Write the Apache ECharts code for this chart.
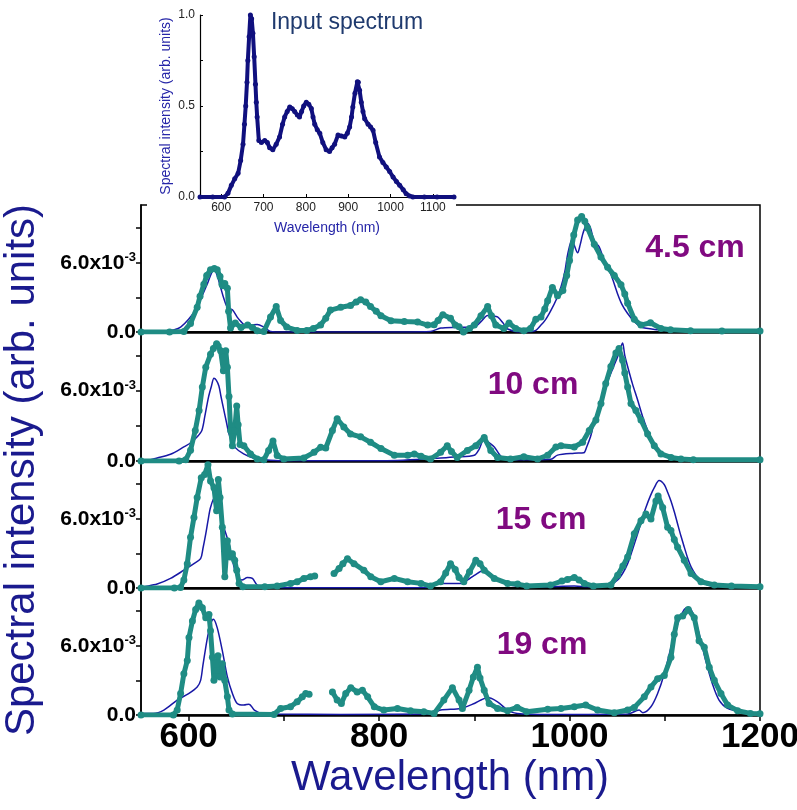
<!DOCTYPE html>
<html>
<head>
<meta charset="utf-8">
<script src="https://cdn.jsdelivr.net/npm/echarts@6/dist/echarts.min.js"></script>
<style>
  html, body { margin: 0; padding: 0; background: #fff; }
  #chart { width: 797px; height: 810px; }
</style>
</head>
<body>
<div id="chart"></div>
<script>
// input spectrum (inset), normalised
const inputSpectrum = [[550,0],[580,0],[608,0],[616,0.02],[624,0.064],[632,0.1],[640,0.13],[646,0.2],[651.6,0.29],[655,0.4],[658,0.5],[661,0.63],[663,0.75],[666,0.88],[669,1.0],[672,0.98],[675,0.9],[678,0.77],[681,0.62],[683,0.52],[685,0.44],[689,0.31],[695,0.30],[703,0.31],[709,0.3],[714.6,0.27],[722,0.26],[730,0.29],[738,0.33],[745,0.4],[750,0.44],[756,0.47],[762,0.495],[768,0.485],[773.6,0.47],[780,0.45],[785,0.44],[790,0.47],[795,0.5],[801,0.52],[807,0.51],[813,0.486],[817,0.44],[821,0.40],[827,0.37],[833,0.35],[840,0.3],[848,0.26],[856,0.25],[862,0.27],[868,0.29],[876,0.34],[884,0.335],[892,0.33],[898,0.35],[903.5,0.385],[908,0.44],[911,0.495],[916,0.57],[921.7,0.633],[924,0.63],[927,0.587],[931,0.52],[935,0.47],[939,0.43],[947,0.40],[953,0.385],[958.7,0.367],[965,0.3],[974,0.22],[982,0.19],[990,0.165],[998,0.14],[1006,0.11],[1014,0.085],[1021.7,0.064],[1030,0.04],[1037,0.018],[1045,0.006],[1053,0],[1080,0],[1110,0],[1150,0]]

// output spectra, values in units of 1e-3 (blue = simulation, teal = measurement)
const blue45 = [[550,0],[574,0],[585,0.2],[591.6,0.43],[600,1.1],[609,2.14],[614,3.1],[619.6,4.15],[623,4.9],[626.6,5.43],[630,4.9],[633.6,3.86],[637,2.9],[640.7,2.14],[646,1.92],[651,1.29],[655,0.9],[660,0.57],[666,0.6],[672,0.66],[679,0.43],[686,0.05],[700,0],[750,0],[800,0],[854,0.05],[864.8,0.34],[880,0.4],[900,0.43],[907,0.9],[914,1.43],[919,1.4],[924.4,1.3],[930,0.8],[935,0.26],[949,0],[963,0.08],[970,0.6],[975,1.1],[980.6,1.9],[986,2.8],[991,3.9],[995,5.2],[998,6.7],[1002.5,8.0],[1005,7.5],[1008.5,6.86],[1011,7.5],[1013.7,8.43],[1016,9.0],[1019,9.43],[1022,9.0],[1026,7.86],[1031,7.4],[1036,6.3],[1043.4,5.0],[1050.5,3.3],[1055,2.4],[1061,1.6],[1068,0.9],[1075,0.43],[1092.5,0.2],[1110,0.1],[1150,0.05],[1200,0.05]]
const teal45 = [[550,0],[580,0],[595,0.05],[602,0.74],[609,2.14],[612,3.1],[616,4.14],[619,4.9],[623,5.4],[627,5.5],[630,5.4],[633,4.8],[635,4.14],[636,4.0],[638,4.2],[640.7,3.8],[642,1.8],[644,0.35],[649,0.77],[655,0.4],[662,0.6],[667,0.4],[672,0.1],[679,0.05],[686,1.3],[692,2.2],[696.6,1.0],[703,0.43],[714,0.14],[724,0.14],[731,0.3],[738.6,0.6],[744,1.2],[749,1.9],[759.7,2.14],[770,2.3],[776,2.6],[780.6,2.8],[786,2.6],[791,2.2],[797,1.8],[802,1.4],[812.5,0.97],[826.5,0.9],[840.5,0.86],[851,0.6],[857.8,0.63],[862,1.0],[867,1.5],[875,1.2],[880,0.6],[884,0.45],[888.6,0.0],[895,0.3],[900,0.6],[907,1.4],[914,2.2],[918,1.4],[922.6,0.6],[931,0.3],[936.5,0.77],[943.5,0.3],[952,0.1],[959,0.3],[964.6,1.1],[970,1.3],[974,2.0],[977,2.7],[982,3.86],[987.4,3.14],[993,3.6],[997,4.9],[1000,6.2],[1004.4,8.4],[1008.5,9.7],[1012.7,10.0],[1016,9.6],[1019,9.0],[1026,7.6],[1033,6.5],[1040,5.6],[1047,4.9],[1054,4.1],[1058,3.3],[1061,2.5],[1068,1.1],[1075,0.6],[1085,0.8],[1096,0.3],[1106,0.2],[1127,0.1],[1160,0.08],[1200,0.08]]

const blue10 = [[550,0],[556.6,0.05],[567,0.26],[581,0.57],[595,1.2],[603,1.6],[609,2.06],[614,2.63],[617,3.8],[621,5.49],[624,6.4],[626.6,7.06],[629,6.9],[631.8,6.4],[634,5.5],[637,4.34],[640,3.2],[642,2.4],[645,1.8],[649,1.14],[657.8,0.6],[668.6,0.23],[680,0.1],[700,0.02],[800,0.02],[864.6,0.26],[880,0.35],[900,0.49],[905,1.0],[910.4,1.9],[915,1.6],[921,1.2],[926,0.6],[931,0.2],[945,0.1],[980.4,0.15],[987.4,0.5],[1005,0.66],[1015,0.7],[1018,1.2],[1022,2.06],[1025,3.0],[1029.4,4.06],[1033,5.0],[1036.4,6.06],[1040,6.8],[1043.5,7.5],[1047,8.2],[1050.5,8.9],[1053,9.5],[1055.7,10.06],[1058,9.0],[1061,8.06],[1066,6.6],[1071.5,5.2],[1076.7,3.8],[1083.7,2.3],[1092.5,1.0],[1103,0.37],[1117,0.17],[1150,0.1],[1200,0.1]]
const teal10 = [[550,0],[590,0],[597,0.1],[602,0.92],[607,2.6],[611,4.3],[614.4,6.3],[618,8.0],[623,9.1],[626,9.6],[629.4,10.0],[631,9.8],[633.6,9.4],[636.5,7.7],[639,9.4],[640.7,8.0],[642.4,5.5],[644.2,2.6],[646,1.3],[648.4,2.6],[650.5,4.7],[652,3.1],[654,1.4],[658,1.3],[665,0.6],[672,0.17],[679,0.1],[684,0.9],[688.6,1.7],[693,0.46],[700,0.17],[721,0.26],[731.7,0.74],[738.7,1.17],[744,1.1],[751,2.6],[756,3.6],[763,2.9],[770,2.3],[780.6,2.06],[791,1.6],[802,1.06],[816,0.49],[830,0.49],[837,0.6],[844,0.4],[854,0.17],[864.6,0.74],[871.6,1.3],[876,0.8],[882,0.3],[892.7,0.9],[901.6,1.3],[910.4,2.0],[917.3,0.9],[924.4,0.3],[938,0.17],[952,0.37],[966.4,0.17],[977,0.49],[985.7,1.2],[991,1.3],[1005,1.2],[1013.7,1.6],[1020.7,2.6],[1027.7,3.5],[1033,4.9],[1038,6.6],[1043.4,8.06],[1048.7,9.2],[1052,9.6],[1055.7,8.6],[1058,7.5],[1061,6.3],[1064.5,4.9],[1069.7,4.3],[1075,3.5],[1082,2.3],[1089,1.3],[1096,0.6],[1106.6,0.3],[1117,0.17],[1130,0.1],[1200,0.1]]

const blue15 = [[550,0.05],[553,0.11],[567,0.34],[581,0.83],[595,1.54],[605.6,2.11],[612.6,2.54],[615,3.4],[618,4.69],[620.5,5.9],[623,6.97],[627.3,7.83],[631.8,6.97],[637,5.26],[642.4,3.83],[646,2.4],[651,0.97],[656,0.69],[661.7,0.91],[667,0.83],[672,0.26],[680,0.11],[700,0.02],[850,0.05],[864.6,0.4],[885.8,0.4],[893,0.7],[900,1.1],[910.4,1.54],[921,0.97],[931,0.4],[945,0.17],[970,0.11],[1005,0.17],[1020,0.11],[1040,0.17],[1050.5,0.69],[1056,1.3],[1061,2.11],[1066,3.3],[1071.5,4.69],[1076,5.9],[1080.2,6.97],[1085,8.0],[1089,8.69],[1094,9.31],[1099.4,8.97],[1103,8.3],[1106.5,7.54],[1110,6.6],[1113.5,5.54],[1117,4.5],[1120.5,3.54],[1124,2.6],[1127.6,1.83],[1132,1.2],[1136.3,0.69],[1145,0.26],[1160,0.11],[1200,0.1]]
const teal15 = [[550,0],[585,0],[591.5,0.05],[595,0.69],[598.6,2.11],[602,4.4],[605.6,6.11],[609,7.83],[613.3,9.54],[616.8,9.83],[620.3,10.68],[623,9.26],[626.6,8.69],[629.4,6.69],[631.2,9.4],[633,7.83],[635.4,5.26],[638,0.97],[640.7,4.1],[643.5,2.69],[646,2.97],[648.4,2.4],[650.5,1.54],[653,0.4],[657,0.11],[680,0.1],[693,0.17],[707,0.4],[714,0.54],[721,0.83],[728,0.97],[732.4,1.03],[740,null],[752.7,1.26],[758,1.69],[762,2.1],[766.8,2.54],[773.7,2.11],[784,1.54],[791.3,0.97],[801.8,0.54],[816,0.83],[830,0.54],[844,0.4],[854,0.17],[864.6,0.54],[870,1.3],[875,2.1],[880,1.6],[884,0.9],[889,0.54],[895,1.4],[901.6,2.4],[906,2.1],[910.4,1.54],[921,0.83],[935,0.4],[945.5,0.34],[955,0.17],[980,0.26],[992,0.6],[997.8,0.74],[1005,0.91],[1010,0.7],[1015.5,0.4],[1025,0.17],[1043.4,0.26],[1050.5,1.11],[1056,1.9],[1061,2.69],[1068,4.69],[1075,5.83],[1080.2,6.4],[1085.5,5.97],[1090.7,7.54],[1093,7.97],[1097.8,6.97],[1103,5.26],[1106.5,4.97],[1110,4.2],[1113.5,3.54],[1120.5,2.4],[1127.6,1.26],[1138,0.54],[1152,0.26],[1170,0.17],[1200,0.1]]

const blue19 = [[550,0.14],[563,0.14],[574,0.43],[588,1.29],[600,1.86],[609,2.43],[612.6,3.0],[615,4.3],[618,5.86],[620.5,7.0],[623,7.86],[626,8.29],[630,7.57],[635.4,5.57],[640.7,3.29],[646,1.86],[651,1.0],[658,0.86],[663.4,0.94],[669,0.43],[677,0.14],[690,0.08],[760,0.05],[855,0.1],[864.6,0.43],[885.8,0.57],[900,1.0],[907,1.3],[914,1.51],[924.4,1.14],[935,0.43],[945,0.14],[980,0.05],[1061,0.08],[1073,0.43],[1077,0.2],[1085.5,0.71],[1092.5,1.86],[1099.5,3.57],[1106.5,5.86],[1113.5,7.86],[1120.5,9.14],[1124.7,9.34],[1129.3,8.86],[1136.2,7.0],[1143,4.71],[1150,2.71],[1157,1.29],[1166,0.57],[1180,0.29],[1200,0.2]]
const teal19 = [[550,0],[584,0],[588,0.43],[591.6,1.86],[595,3.57],[598.6,4.71],[600.4,6.71],[604,8.14],[607.4,9.14],[610.8,9.71],[614.4,9.29],[618,8.43],[621.4,8.71],[623,7.29],[625,5.0],[626.6,3.0],[629.4,3.86],[630.8,5.14],[633,3.29],[635.4,4.43],[637.9,3.0],[640.7,1.57],[642.4,0.43],[646,0.08],[689.6,0.05],[696.6,0.57],[707,0.71],[714,1.14],[719.4,1.57],[723,1.86],[726.5,1.8],[740,null],[751,2.0],[756,1.29],[760.4,1.0],[765,1.86],[770.3,2.37],[777,2.0],[782.5,2.14],[788,1.57],[795,0.71],[805,0.43],[819.3,0.57],[833,0.37],[847,0.29],[857.8,0.14],[868,1.29],[877,2.37],[884,1.29],[887.5,0.57],[894.5,2.14],[899,3.3],[903.3,4.14],[906,3.2],[910.4,2.14],[915.6,1.0],[924.4,0.57],[935,0.37],[945,0.66],[955,0.29],[977,0.49],[991,0.57],[1005,0.71],[1017,0.86],[1029.4,0.43],[1047,0.2],[1061,0.43],[1068,0.66],[1078.5,1.57],[1085.5,2.43],[1092.5,3.14],[1099.5,3.43],[1106.5,5.0],[1110,7.0],[1113.5,8.43],[1118.8,8.57],[1124.7,9.14],[1131,8.43],[1136,6.43],[1141.5,5.86],[1146.7,4.14],[1152,3.0],[1159,1.86],[1166,0.86],[1176.5,0.37],[1190,0.14],[1200,0.1]]

const panelLabels = ['4.5 cm', '10 cm', '15 cm', '19 cm']
const panels = [[blue45, teal45], [blue10, teal10], [blue15, teal15], [blue19, teal19]]
const mainXLabels = [600, 800, 1000, 1200]
const mainXTicks = [600, 700, 800, 900, 1000, 1100, 1200]
const insetXLabels = [600, 700, 800, 900, 1000, 1100]
const yLabels = [0, 0.006]
const yTicks = [0, 0.003, 0.006, 0.009]

const NAVY = '#1a1a8e'
const BLUE = '#1818a6'
const TEAL = '#1f8c84'
const PURPLE = '#800a80'

const panelTops = [205, 332, 461, 588]
const panelHeights = [127, 129, 127, 127]
const labelPos = [[695, 248], [533, 385], [541, 520], [542, 645]]

const toSeries = pts => pts.map(([nm, v]) => [nm, v == null ? '-' : v / 1000])

const chart = echarts.init(document.getElementById('chart'), null, { renderer: 'canvas' })

const grids = [{ left: 200, top: 15, width: 254, height: 182, show: false, outerBoundsMode: 'none', containLabel: false }]
const xAxes = [{
  gridIndex: 0, type: 'value', min: 550, max: 1150, z: 5,
  axisLine: { lineStyle: { color: '#000', width: 1.2 } },
  axisTick: { inside: true, length: 3, customValues: insetXLabels, lineStyle: { color: '#000' } },
  axisLabel: { customValues: insetXLabels, formatter: v => String(v), fontSize: 12, color: '#222', margin: 5, fontFamily: 'Liberation Sans' },
  splitLine: { show: false },
  name: 'Wavelength (nm)', nameLocation: 'middle', nameGap: 24,
  nameTextStyle: { color: '#2626a8', fontSize: 14, fontFamily: 'Liberation Sans' }
}]
const yAxes = [{
  gridIndex: 0, type: 'value', min: 0, max: 1, z: 5,
  axisLine: { show: true, lineStyle: { color: '#000', width: 1.2 } },
  axisTick: { show: true, inside: true, length: 3, customValues: [0, 0.25, 0.5, 0.75, 1], lineStyle: { color: '#000' } },
  axisLabel: { customValues: [0, 0.5, 1], formatter: v => v.toFixed(1), fontSize: 12, color: '#222', margin: 5, fontFamily: 'Liberation Sans' },
  splitLine: { show: false },
  name: 'Spectral intensity (arb. units)', nameLocation: 'middle', nameGap: 27,
  nameTextStyle: { color: '#2626a8', fontSize: 14, fontFamily: 'Liberation Sans' }
}]
const series = [{
  type: 'line', xAxisIndex: 0, yAxisIndex: 0, z: 5,
  data: inputSpectrum, symbol: 'circle', symbolSize: 5, showAllSymbol: true,
  itemStyle: { color: '#10107e' }, lineStyle: { color: '#10107e', width: 4 }
}]

panels.forEach(([blue, teal], i) => {
  const last = i === panels.length - 1
  grids.push({
    left: 141, width: 619, top: panelTops[i], height: panelHeights[i],
    show: true, borderColor: '#000', borderWidth: 1.5, outerBoundsMode: 'none', containLabel: false
  })
  xAxes.push({
    gridIndex: i + 1, type: 'value', min: 550, max: 1200,
    axisLine: { onZero: false, lineStyle: { color: '#000', width: 2.5 } },
    axisTick: { show: last, length: 6, customValues: mainXTicks, lineStyle: { color: '#000', width: 1.5 } },
    axisLabel: {
      show: last, customValues: mainXLabels, formatter: v => String(v), fontSize: 35, fontWeight: 'bold', margin: 5,
      color: '#000', fontFamily: '"Liberation Sans Narrow", "Liberation Sans", Arial'
    },
    splitLine: { show: false }
  })
  yAxes.push({
    gridIndex: i + 1, type: 'value', min: 0, max: 0.011,
    axisLine: { show: true, lineStyle: { color: '#000', width: 1.5 } },
    axisTick: { show: true, length: 5, customValues: yTicks, lineStyle: { color: '#000', width: 1.5 } },
    axisLabel: {
      customValues: yLabels, margin: 5,
      formatter: v => v === 0 ? '{b|0.0}' : '{b|6.0x10}{s|-3}',
      rich: {
        b: { fontSize: 21, fontWeight: 'bold', color: '#000', fontFamily: 'Liberation Sans', lineHeight: 24 },
        s: { fontSize: 13, fontWeight: 'bold', color: '#000', fontFamily: 'Liberation Sans', verticalAlign: 'top', padding: [0, 0, 10, 0] }
      }
    },
    splitLine: { show: false }
  })
  series.push({
    type: 'line', xAxisIndex: i + 1, yAxisIndex: i + 1, data: toSeries(blue),
    showSymbol: false, smooth: 0.3, lineStyle: { color: BLUE, width: 1.5 }, itemStyle: { color: BLUE }, z: 2
  })
  series.push({
    type: 'line', xAxisIndex: i + 1, yAxisIndex: i + 1, data: toSeries(teal),
    symbol: 'circle', symbolSize: 7, showAllSymbol: true, connectNulls: false,
    lineStyle: { color: TEAL, width: 5 }, itemStyle: { color: TEAL }, z: 3
  })
})

const texts = panelLabels.map((t, i) => ({
  type: 'text', x: labelPos[i][0], y: labelPos[i][1], z: 10,
  style: { text: t, fill: PURPLE, font: 'bold 32px "Liberation Sans"', align: 'center', verticalAlign: 'middle', textAlign: 'center', textVerticalAlign: 'middle' }
}))

const option = {
  backgroundColor: '#fff',
  animation: false,
  grid: grids,
  xAxis: xAxes,
  yAxis: yAxes,
  series: series,
  graphic: [
    // inset background hides the top frame of the first panel
    { type: 'rect', z: 1, shape: { x: 147, y: 0, width: 309, height: 238 }, style: { fill: '#fff' } },
    {
      type: 'text', x: 347, y: 23, z: 10,
      style: { text: 'Input spectrum', fill: '#1f3a6e', font: '23px "Liberation Sans"', align: 'center', verticalAlign: 'middle', textAlign: 'center', textVerticalAlign: 'middle' }
    },
    {
      type: 'text', x: 22, y: 470, rotation: Math.PI / 2, z: 10,
      style: { text: 'Spectral intensity (arb. units)', fill: NAVY, font: '42px "Liberation Sans"', align: 'center', verticalAlign: 'middle', textAlign: 'center', textVerticalAlign: 'middle' }
    },
    {
      type: 'text', x: 450, y: 778, z: 10,
      style: { text: 'Wavelength (nm)', fill: NAVY, font: '42px "Liberation Sans"', align: 'center', verticalAlign: 'middle', textAlign: 'center', textVerticalAlign: 'middle' }
    }
  ].concat(texts)
}

chart.setOption(option)
</script>
</body>
</html>
